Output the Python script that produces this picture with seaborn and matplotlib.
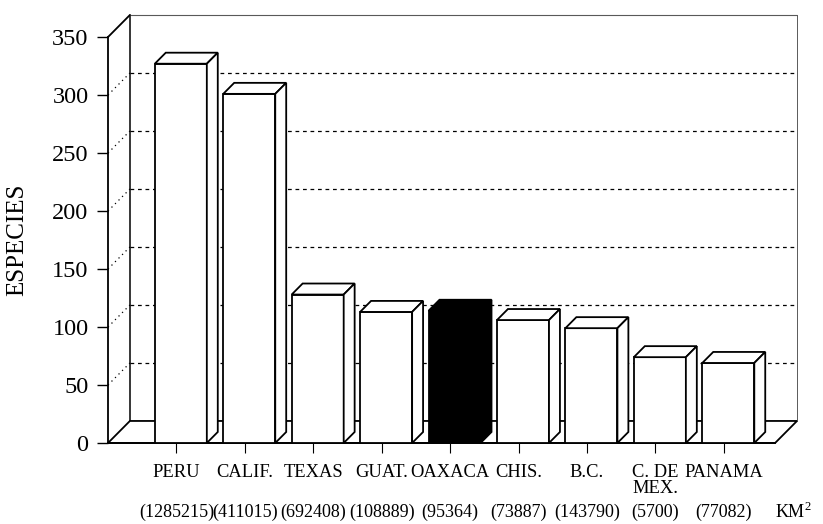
import matplotlib
matplotlib.use("Agg")
import matplotlib.pyplot as plt
import matplotlib.transforms as mtransforms
from matplotlib.patches import Polygon
import seaborn as sns
import numpy as np

# data
regions = ["PERU", "CALIF.", "TEXAS", "GUAT.", "OAXACA", "CHIS.", "B.C.", "C. DE\nMEX.", "PANAMA"]
species = [327, 301, 128, 113, 114, 106, 99, 74, 69]
areas = ["(1285215)", "(411015)", "(692408)", "(108889)", "(95364)", "(73887)", "(143790)", "(5700)", "(77082)"]
y_ticks = [0, 50, 100, 150, 200, 250, 300, 350]
highlight = "OAXACA"

# pseudo-3d depth (data units)
WALL_DX, WALL_DY = 0.32, 19.0
BAR_DX, BAR_DY = 0.16, 9.5
X_LEFT, X_FLOOR_RIGHT = -1.064, 8.684
Y_TOP = 350

sns.set_theme(style="white")
plt.rcParams['font.family'] = ['Liberation Serif', 'DejaVu Serif']
plt.rcParams.update({'text.color': 'black', 'axes.labelcolor': 'black',
                     'xtick.color': 'black', 'ytick.color': 'black',
                     'mathtext.fontset': 'custom', 'mathtext.rm': 'Liberation Serif'})

fig = plt.figure(figsize=(8.23, 5.24), dpi=100, facecolor='w')
ax = fig.add_axes([108 / 823, 81 / 524, 689 / 823, 428 / 524])

palette = {r: ('black' if r == highlight else 'white') for r in regions}
sns.barplot(x=regions, y=species, hue=regions, palette=palette, legend=False, width=0.76,
            edgecolor='black', linewidth=1.3, saturation=1, ax=ax)

# top and side faces of the bars
for bar in list(ax.patches):
    x0, w, h = bar.get_x(), bar.get_width(), bar.get_height()
    fc = bar.get_facecolor()
    bar.set_zorder(3)
    top = Polygon([(x0, h), (x0 + BAR_DX, h + BAR_DY), (x0 + w + BAR_DX, h + BAR_DY), (x0 + w, h)],
                  closed=True, facecolor=fc, edgecolor='black', lw=1.3, zorder=3, clip_on=False)
    side = Polygon([(x0 + w, 0), (x0 + w + BAR_DX, BAR_DY), (x0 + w + BAR_DX, h + BAR_DY), (x0 + w, h)],
                   closed=True, facecolor=fc, edgecolor='black', lw=1.3, zorder=3, clip_on=False)
    ax.add_patch(top)
    ax.add_patch(side)

x_back_left = X_LEFT + WALL_DX
x_back_right = X_FLOOR_RIGHT + WALL_DX

# floor
floor = Polygon([(X_LEFT, 0), (X_FLOOR_RIGHT, 0), (x_back_right, WALL_DY), (x_back_left, WALL_DY)],
                closed=True, facecolor='white', edgecolor='black', lw=1.3, zorder=1, clip_on=False)
ax.add_patch(floor)

# gridlines: dotted on left wall, dashed on back wall
for v in y_ticks[1:-1]:
    ax.plot([X_LEFT, x_back_left], [v, v + WALL_DY], color='black', lw=0.9, ls=(0, (1, 3)), zorder=0.5)
    ax.plot([x_back_left, x_back_right], [v + WALL_DY, v + WALL_DY], color='black', lw=0.9,
            ls=(0, (3, 3)), zorder=0.5)

# wall edges
ax.plot([X_LEFT, x_back_left], [Y_TOP, Y_TOP + WALL_DY], color='black', lw=1.3, zorder=2, clip_on=False)
ax.plot([x_back_left, x_back_left], [WALL_DY, Y_TOP + WALL_DY], color='black', lw=1.1, zorder=0.6, clip_on=False)
ax.plot([x_back_left, x_back_right], [Y_TOP + WALL_DY, Y_TOP + WALL_DY], color='0.35', lw=0.8, zorder=0.6, clip_on=False)
ax.plot([x_back_right, x_back_right], [WALL_DY, Y_TOP + WALL_DY], color='0.35', lw=0.7, zorder=0.6, clip_on=False)

ax.set_xlim(X_LEFT, x_back_right)
ax.set_ylim(0, Y_TOP + WALL_DY)

for s in ['top', 'right']:
    ax.spines[s].set_visible(False)
ax.spines['left'].set_bounds(0, Y_TOP)
ax.spines['bottom'].set_bounds(X_LEFT, X_FLOOR_RIGHT)
for s in ['left', 'bottom']:
    ax.spines[s].set_color('black')
    ax.spines[s].set_linewidth(1.3)
    ax.spines[s].set_zorder(2)

tick_pos = np.arange(len(regions)) - 0.064
ax.set_xticks(tick_pos, regions)
ax.set_yticks(y_ticks)
ax.tick_params(axis='y', direction='out', length=8, width=1, labelsize=17.5, pad=6, left=True)
ax.tick_params(axis='x', direction='out', length=7, width=0.8, labelsize=13.3, pad=8, bottom=True)
for lbl in ax.get_xticklabels():
    lbl.set_linespacing(0.95)

trans = mtransforms.blended_transform_factory(ax.transData, ax.transAxes)
for x, a in zip(tick_pos, areas):
    ax.text(x, -0.161, a, transform=trans, ha='center', va='center', fontsize=13)
ax.text(9.22, -0.161, r"KM$^{2}$", transform=trans, ha='right', va='center', fontsize=13)

ax.set_xlabel('')
ax.set_ylabel('ESPECIES', fontsize=18)
ax.yaxis.set_label_coords((28 - 108) / 689, 0.474)

fig.savefig('out.png', dpi=100, facecolor='w')
plt.close()
